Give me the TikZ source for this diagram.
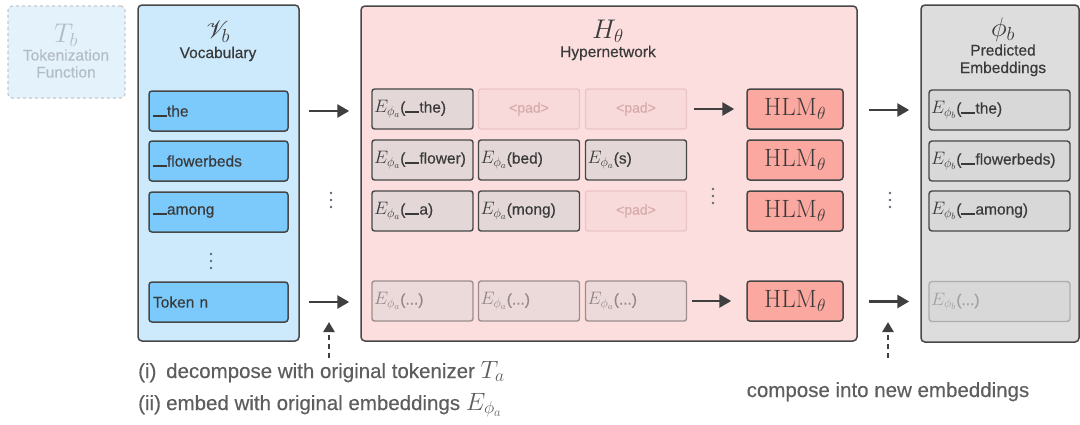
\documentclass[tikz,border=0pt]{standalone}
\usepackage{fix-cm}
\usepackage[no-math]{fontspec}
\setmainfont{Liberation Sans}[FakeBold=0.35]
\usepackage{mathrsfs}
\usetikzlibrary{arrows.meta,calc}
\definecolor{dk}{HTML}{474747}
\definecolor{txt}{HTML}{3A3A3A}
\definecolor{arrc}{HTML}{3F3F3F}
\definecolor{dotc}{HTML}{5A6878}
\definecolor{tbf}{HTML}{E4F2FC}
\definecolor{tbb}{HTML}{C4C8CC}
\definecolor{tbt}{HTML}{B3BDC6}
\definecolor{vocf}{HTML}{CDEAFD}
\definecolor{tokf}{HTML}{7BCAFB}
\definecolor{hypf}{HTML}{FDDEDE}
\definecolor{cellf}{HTML}{E3D7D7}
\definecolor{padf}{HTML}{F8DADA}
\definecolor{padb}{HTML}{EBC5C5}
\definecolor{padt}{HTML}{D8AAAA}
\definecolor{ghf}{HTML}{ECDADA}
\definecolor{ghb}{HTML}{9C8E8E}
\definecolor{ght}{HTML}{928686}
\definecolor{hlmf}{HTML}{FBA8A0}
\definecolor{predf}{HTML}{DDDDDD}
\definecolor{pcf}{HTML}{D8D8D8}
\definecolor{pgb}{HTML}{ADADAD}
\definecolor{pgt}{HTML}{A0A0A0}
\definecolor{bott}{HTML}{5E5E5E}
\newcommand{\spu}{\rule[-0.2pt]{14pt}{1.6pt}}
\newcommand{\setfs}[1]{\fontsize{#1}{#1}\selectfont}
\newcommand{\mth}[2]{{\fontsize{#1}{#1}\selectfont$#2$}}
\newcommand{\Ea}{\mth{18}{E_{\phi_a}}}
\newcommand{\Eb}{\mth{18}{E_{\phi_b}}}
\begin{document}
\begin{tikzpicture}[x=1pt,y=-1pt,
  outer/.style={draw=dk,line width=1.5pt,rounded corners=4pt},
  ttl/.style={text=txt,inner sep=0pt,font=\setfs{27}},
  sub/.style={text=txt,inner sep=0pt,font=\setfs{15.5}},
  tok/.style={draw=dk,fill=tokf,line width=1.5pt,rounded corners=3pt,minimum height=40pt,
    text width=131pt,inner xsep=4pt,align=left,text=txt,font=\setfs{15.5}},
  cell/.style={draw=dk,fill=cellf,line width=1.4pt,rounded corners=2.5pt,minimum height=40pt,
    text width=97pt,inner xsep=2pt,align=left,text=txt,font=\setfs{15.5}},
  pad/.style={cell,draw=padb,fill=padf,text=padt,align=center,font=\setfs{14}},
  ghost/.style={cell,draw=ghb,fill=ghf,text=ght},
  hlm/.style={draw=dk,fill=hlmf,line width=1.5pt,rounded corners=3pt,minimum width=96pt,
    minimum height=40pt,text=txt,font=\setfs{25},inner sep=0pt},
  pcell/.style={draw=dk,fill=pcf,line width=1.4pt,rounded corners=3pt,minimum height=40pt,
    text width=137pt,inner xsep=2pt,align=left,text=txt,font=\setfs{15.5}},
  pghost/.style={pcell,draw=pgb,text=pgt},
  arr/.style={draw=arrc,line width=2.8pt,-{Triangle[length=12pt,width=13pt]}},
  darr/.style={draw=arrc,line width=2.8pt,dash pattern=on 5pt off 4pt,-{Triangle[length=10pt,width=11pt]}},
  dotm/.style={fill=dotc,draw=none},
  bot/.style={text=bott,inner sep=0pt,font=\setfs{20.5}}
]
\useasboundingbox (0,0) rectangle (1080,424);

% ---- outer boxes
\node[draw=tbb,fill=tbf,line width=1.2pt,dashed,rounded corners=4pt,minimum width=117pt,minimum height=92pt] (tb) at (66.5,52) {};
\node[outer,fill=vocf,minimum width=161pt,minimum height=336pt] (vocab) at (218.5,173) {};
\node[outer,fill=hypf,minimum width=496pt,minimum height=335pt] (hyper) at (609,173.5) {};
\node[outer,fill=predf,minimum width=158pt,minimum height=337pt] (pred) at (1000,173.5) {};

% ---- titles
\node[ttl,text=tbt] (tbT) at (66,35) {$T_b$};
\node[sub,text=tbt] (tbS1) at (66,55) {Tokenization};
\node[sub,text=tbt] (tbS2) at (66,72) {Function};
\node[ttl] (vT) at (218,32) {$\mathscr{V}_b$};
\node[sub] (vS) at (218,54) {Vocabulary};
\node[ttl] (hT) at (608,31) {$H_\theta$};
\node[sub] (hS) at (608,53) {Hypernetwork};
\node[ttl] (pT) at (1003,30) {$\phi_b$};
\node[sub] (pS1) at (1003,50) {Predicted};
\node[sub] (pS2) at (1003,69) {Embeddings};

% ---- vocabulary tokens
\node[tok] (t1) at (218.5,111) {\spu the};
\node[tok] (t2) at (218.5,161) {\spu flowerbeds};
\node[tok] (t3) at (218.5,212) {\spu among};
\node[tok] (tn) at (218.5,302) {Token n};

% ---- hypernetwork cells
\node[cell] (c11) at (422.5,109) {\Ea(\spu the)};
\node[pad]  (c12) at (529,109) {<pad>};
\node[pad]  (c13) at (636,109) {<pad>};
\node[cell] (c21) at (422.5,160) {\Ea(\spu flower)};
\node[cell] (c22) at (529,160) {\Ea(bed)};
\node[cell] (c23) at (636,160) {\Ea(s)};
\node[cell] (c31) at (422.5,211) {\Ea(\spu a)};
\node[cell] (c32) at (529,211) {\Ea(mong)};
\node[pad]  (c33) at (636,211) {<pad>};
\node[ghost] (c41) at (422.5,301) {\Ea(...)};
\node[ghost] (c42) at (529,301) {\Ea(...)};
\node[ghost] (c43) at (636,301) {\Ea(...)};

\node[hlm] (h1) at (795,109) {$\mathrm{HLM}_\theta$};
\node[hlm] (h2) at (795,160) {$\mathrm{HLM}_\theta$};
\node[hlm] (h3) at (795,211) {$\mathrm{HLM}_\theta$};
\node[hlm] (h4) at (795,301) {$\mathrm{HLM}_\theta$};

% ---- predicted cells
\node[pcell] (p1) at (999.5,110) {\Eb(\spu the)};
\node[pcell] (p2) at (999.5,161) {\Eb(\spu flowerbeds)};
\node[pcell] (p3) at (999.5,211) {\Eb(\spu among)};
\node[pghost] (p4) at (999.5,301.5) {\Eb(...)};

% ---- arrows
\draw[arr] ($(vocab.east |- t1)+(9,0)$) -- ($(hyper.west |- t1)+(-11,0)$);
\draw[arr] ($(vocab.east |- tn)+(9,0)$) -- ($(hyper.west |- tn)+(-11,0)$);
\draw[arr] ($(c13.east)+(7,0)$) -- ($(h1.west)+(-12,0)$);
\draw[arr] ($(c43.east)+(5,0)$) -- ($(h4.west)+(-15,0)$);
\draw[arr] ($(hyper.east |- p1)+(11,0)$) -- ($(pred.west |- p1)+(-11,0)$);
\draw[arr] ($(hyper.east |- p4)+(11,0)$) -- ($(pred.west |- p4)+(-11,0)$);

\coordinate (da0) at (329,358);
\coordinate (da1) at (329,322);
\coordinate (db0) at (888,358);
\coordinate (db1) at (888,322);
\draw[darr] (da0) -- (da1);
\draw[darr] (db0) -- (db1);

% ---- dots
\foreach \x/\y in {211/261, 331/200, 713/196, 890/200}{
  \foreach \d in {-7,0,7}{\fill[dotm] (\x,\y+\d) circle (1.4pt);}
}

% ---- bottom texts
\node[bot,anchor=base west] (l1) at (138,378) {\makebox[28pt][l]{(i)}decompose with original tokenizer \mth{25}{T_a}};
\node[bot,anchor=base west] (l2) at (138,410) {\makebox[28pt][l]{(ii)}embed with original embeddings \mth{25}{E_{\phi_a}}};
\node[bot,anchor=base] (l3) at (888,397) {compose into new embeddings};
\end{tikzpicture}
\end{document}
